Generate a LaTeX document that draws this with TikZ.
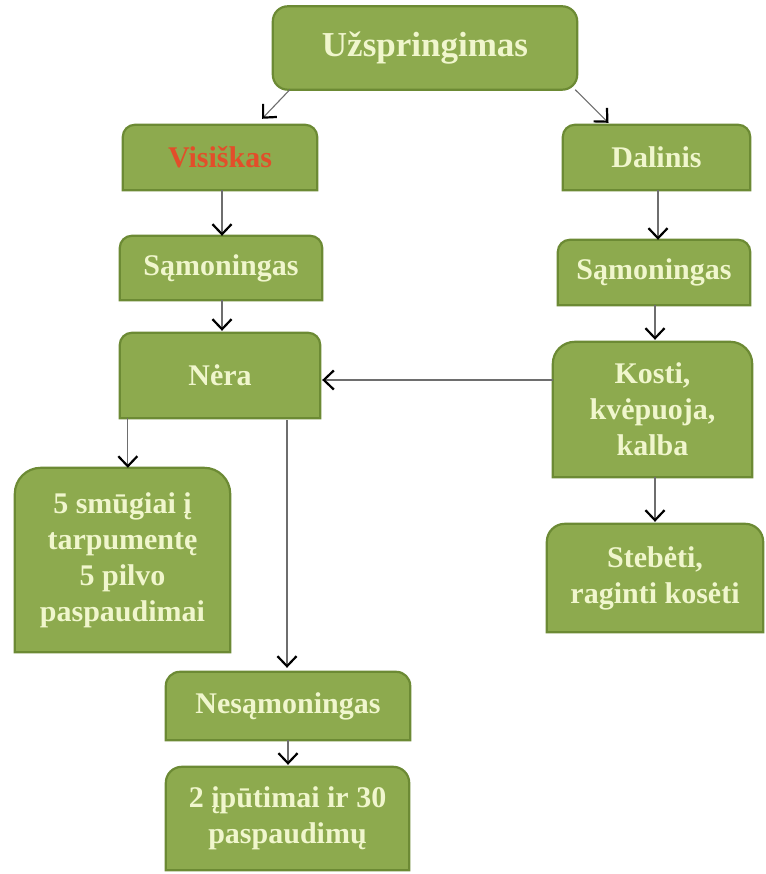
\documentclass[tikz,border=0pt]{standalone}
\usepackage{fontspec}
\setmainfont{Liberation Serif}
\usetikzlibrary{arrows.meta,backgrounds,calc}
\definecolor{boxfill}{RGB}{141,170,78}
\definecolor{boxline}{RGB}{108,138,52}
\definecolor{boxtext}{RGB}{240,246,205}
\definecolor{redtext}{RGB}{226,78,42}
\definecolor{lineg}{RGB}{110,110,110}
\tikzset{
  box/.style={inner sep=0pt, align=center, text=boxtext, font=\bfseries\fontsize{30}{36}\selectfont},
  boxpath/.style={fill=boxfill, draw=boxline, line width=2.2pt},
  arr/.style={draw=lineg, line width=1.1pt, -{Straight Barb[length=10pt,width=19pt,line width=2.2pt,color=black]}}
}
\begin{document}
\begin{tikzpicture}[x=1pt,y=-1pt]
\useasboundingbox (0,0) rectangle (765,874);
\node[box, minimum width=304pt, minimum height=83pt, font=\bfseries\fontsize{35}{40}\selectfont] (top) at (425,48) {Užspringimas};
\node[box, minimum width=194pt, minimum height=65pt, text=redtext] (vis) at (220,157.5) {Visiškas};
\node[box, minimum width=187pt, minimum height=65pt] (dal) at (656.5,157.5) {Dalinis};
\node[box, minimum width=202pt, minimum height=64pt] (s1) at (221,268) {Sąmoningas};
\node[box, minimum width=192pt, minimum height=65pt] (s2) at (654,272.5) {Sąmoningas};
\node[box, minimum width=200pt, minimum height=85pt] (nera) at (220,375.5) {Nėra};
\node[box, minimum width=199pt, minimum height=135pt] (kosti) at (652.5,409.5) {Kosti,\\kvėpuoja,\\kalba};
\node[box, minimum width=215pt, minimum height=184pt] (smug) at (122.5,560) {5 smūgiai į\\tarpumentę\\5 pilvo\\paspaudimai};
\node[box, minimum width=216pt, minimum height=108pt] (steb) at (655,578) {Stebėti,\\raginti kosėti};
\node[box, minimum width=244pt, minimum height=68pt] (nes) at (288,706) {Nesąmoningas};
\node[box, minimum width=243pt, minimum height=103pt] (ipu) at (287.5,818.5) {2 įpūtimai ir 30\\paspaudimų};
\coordinate (kw) at ([yshift=29.5pt]kosti.west);
\begin{scope}[on background layer]
\fill[white] (0,0) rectangle (765,874);
\draw[boxpath, rounded corners=15pt] (top.south west) rectangle (top.north east);
\foreach \n/\r in {vis/12pt,dal/12pt,s1/12pt,s2/12pt,nera/12pt,kosti/22pt,smug/26pt,steb/18pt,nes/14pt,ipu/16pt}{
  \draw[boxpath] (\n.south west) [rounded corners=\r] -- (\n.north west) -- (\n.north east) [sharp corners] -- (\n.south east) -- cycle;
}
\end{scope}
\draw[arr] ([xshift=17pt]top.south west) -- ([xshift=42pt,yshift=6pt]vis.north);
\draw[arr] ([xshift=-2pt]top.south east) -- ([xshift=-48pt,yshift=2pt]dal.north);
\draw[arr] ([xshift=2pt]vis.south) -- ([xshift=2pt]vis.south |- s1.north);
\draw[arr] ([xshift=1.5pt]dal.south) -- ([xshift=1.5pt]dal.south |- s2.north);
\draw[arr] ([xshift=1pt]s1.south) -- ([xshift=1pt,yshift=2pt]s1.south |- nera.north);
\draw[arr] ([xshift=1pt]s2.south) -- ([xshift=1pt,yshift=2pt]s2.south |- kosti.north);
\draw[arr] (kw) -- ([xshift=2pt]nera.east |- kw);
\draw[arr] ([xshift=8pt]nera.south west) -- ([xshift=8pt]nera.south west |- smug.north);
\draw[arr] ([xshift=67pt,yshift=-2pt]nera.south) -- ([xshift=67pt,yshift=4pt]nera.south |- nes.north);
\draw[arr] ([xshift=2.5pt]kosti.south) -- ([xshift=2.5pt,yshift=2pt]kosti.south |- steb.north);
\draw[arr] (nes.south) -- ([yshift=2pt]nes.south |- ipu.north);
\end{tikzpicture}
\end{document}
